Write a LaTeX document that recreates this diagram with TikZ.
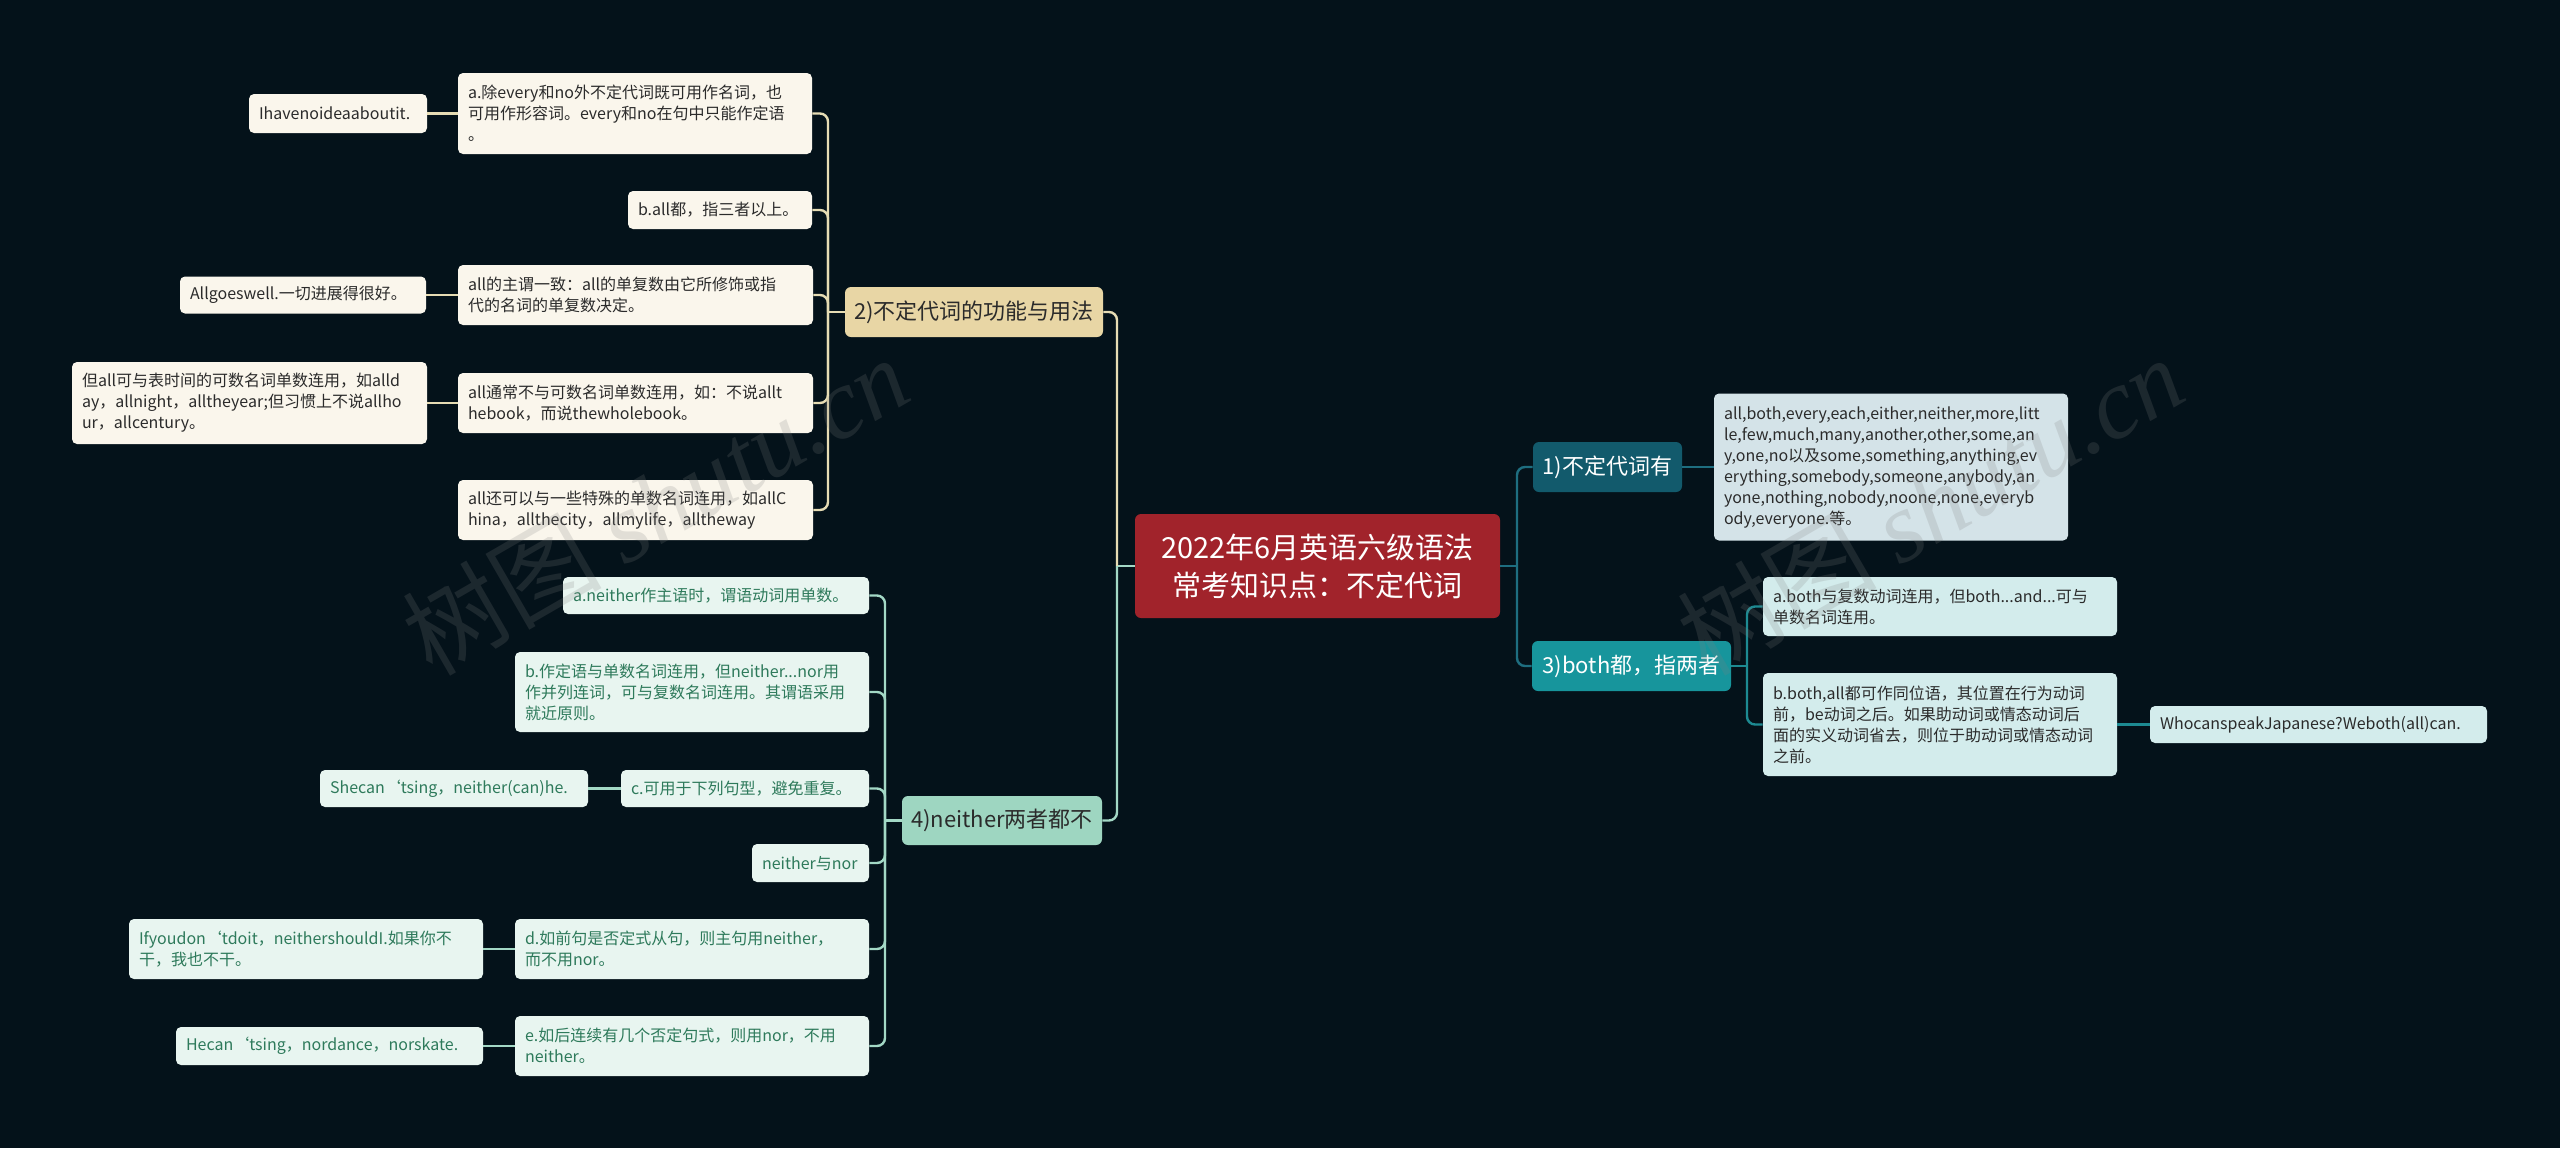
\documentclass[tikz,border=0pt]{standalone}
\usepackage{fontspec}
\setmainfont{Noto Sans CJK SC}
\newfontfamily\wmfont{Liberation Serif}
\usepackage{tikz}

\definecolor{bg}{HTML}{04121A}
\definecolor{rootred}{HTML}{A1232B}
\definecolor{tanfill}{HTML}{E8D6A5}
\definecolor{creamfill}{HTML}{FAF6EC}
\definecolor{creamline}{HTML}{E6DCB4}
\definecolor{greenfill}{HTML}{9ED6C1}
\definecolor{mintfill}{HTML}{E8F5F0}
\definecolor{mintline}{HTML}{A3D8C5}
\definecolor{mintink}{HTML}{2E7A5B}
\definecolor{petrol}{HTML}{125A6C}
\definecolor{icefill}{HTML}{D4E3E8}
\definecolor{petrolline}{HTML}{1E6E80}
\definecolor{cyanfill}{HTML}{17959C}
\definecolor{aquafill}{HTML}{D3ECEC}
\definecolor{cyanline}{HTML}{1D8A92}
\definecolor{ink}{HTML}{2B2B2B}

\begin{document}
\begin{tikzpicture}[x=0.5pt,y=-0.5pt,
  lf/.style={rounded corners=2.5pt,font=\fontsize{8}{10.5}\selectfont,align=left,inner xsep=5pt,inner ysep=0pt},
  sz/.style 2 args={minimum width=#1*0.5pt,minimum height=#2*0.5pt,text width=#1*0.5pt-10pt},
  bsz/.style 2 args={minimum width=#1*0.5pt,minimum height=#2*0.5pt},
  br/.style={rounded corners=3pt,font=\fontsize{11}{13}\selectfont,inner sep=0pt},
  cream/.style={lf,fill=creamfill,text=ink},
  mint/.style={lf,fill=mintfill,text=mintink},
  ice/.style={lf,fill=icefill,text=ink},
  aqua/.style={lf,fill=aquafill,text=ink},
  link/.style={line width=1.2pt,rounded corners=4pt},
  wm/.style={text=gray,opacity=0.2,font=\fontsize{50}{50}\selectfont,rotate=30}]

\fill[bg] (0,0) rectangle (2560,1148);

% centre
\node[fill=rootred,text=white,rounded corners=3pt,align=center,inner sep=0pt,
  font=\fontsize{14.5}{19}\selectfont,bsz={365}{104}] (root) at (1317.5,566)
  {2022年6月英语六级语法\\常考知识点：不定代词};

% branches
\node[br,fill=tanfill,text=ink,bsz={258}{50}] (b2) at (974,312) {2)不定代词的功能与用法};
\node[br,fill=greenfill,text=ink,bsz={200}{49}] (b4) at (1002,820.5) {4)neither两者都不};
\node[br,fill=petrol,text=white,bsz={149}{50}] (b1) at (1607.5,467) {1)不定代词有};
\node[br,fill=cyanfill,text=white,bsz={199}{50}] (b3) at (1631.5,666) {3)both都，指两者};

% 2) leaves
\node[cream,sz={354}{81}] (a1) at (635,113.5) {a.除every和no外不定代词既可用作名词，也\\可用作形容词。every和no在句中只能作定语\\。};
\node[cream,sz={178}{39}] (a1x) at (338,113.5) {Ihavenoideaaboutit.};
\node[cream,sz={184}{38}] (a2) at (720,210) {b.all都，指三者以上。};
\node[cream,sz={355}{60}] (a3) at (635.5,295) {all的主谓一致：all的单复数由它所修饰或指\\代的名词的单复数决定。};
\node[cream,sz={246}{37}] (a3x) at (303,295) {Allgoeswell.一切进展得很好。};
\node[cream,sz={355}{60}] (a4) at (635.5,403) {all通常不与可数名词单数连用，如：不说allt\\hebook，而说thewholebook。};
\node[cream,sz={355}{82}] (a4x) at (249.5,403) {但all可与表时间的可数名词单数连用，如alld\\ay，allnight，alltheyear;但习惯上不说allho\\ur，allcentury。};
\node[cream,sz={355}{60}] (a5) at (635.5,510) {all还可以与一些特殊的单数名词连用，如allC\\hina，allthecity，allmylife，alltheway};

% 4) leaves
\node[mint,sz={306}{37}] (n1) at (716,595.5) {a.neither作主语时，谓语动词用单数。};
\node[mint,sz={354}{80}] (n2) at (692,692) {b.作定语与单数名词连用，但neither...nor用\\作并列连词，可与复数名词连用。其谓语采用\\就近原则。};
\node[mint,sz={248}{37}] (n3) at (745,788.5) {c.可用于下列句型，避免重复。};
\node[mint,sz={268}{37}] (n3x) at (454,788.5) {Shecan‘tsing，neither(can)he.};
\node[mint,sz={117}{38}] (n4) at (810.5,863) {neither与nor};
\node[mint,sz={354}{60}] (n5) at (692,949) {d.如前句是否定式从句，则主句用neither，\\而不用nor。};
\node[mint,sz={354}{60}] (n5x) at (306,949) {Ifyoudon‘tdoit，neithershouldI.如果你不\\干，我也不干。};
\node[mint,sz={354}{60}] (n6) at (692,1046) {e.如后连续有几个否定句式，则用nor，不用\\neither。};
\node[mint,sz={307}{38}] (n6x) at (329.5,1046) {Hecan‘tsing，nordance，norskate.};

% 1) and 3) leaves
\node[ice,sz={354}{147}] (d1) at (1891,467) {all,both,every,each,either,neither,more,litt\\le,few,much,many,another,other,some,an\\y,one,no以及some,something,anything,ev\\erything,somebody,someone,anybody,an\\yone,nothing,nobody,noone,none,everyb\\ody,everyone.等。};
\node[aqua,sz={354}{59}] (c1) at (1940,606.5) {a.both与复数动词连用，但both...and...可与\\单数名词连用。};
\node[aqua,sz={354}{103}] (c2) at (1940,724.5) {b.both,all都可作同位语，其位置在行为动词\\前，be动词之后。如果助动词或情态动词后\\面的实义动词省去，则位于助动词或情态动词\\之前。};
\node[aqua,sz={337}{37}] (c2x) at (2318.5,724.5) {WhocanspeakJapanese?Weboth(all)can.};

% connectors
\coordinate (tl) at (1117,566);
\coordinate (tr) at (1517,566);
\coordinate (t2) at (828,312);
\coordinate (t4) at (885,820.5);
\coordinate (t3) at (1747,666);

\draw[link,mintline] (root.west) -- (tl);
\draw[link,creamline] (tl) |- (b2.east);
\draw[link,mintline] (tl) |- (b4.east);
\draw[link,petrolline] (root.east) -- (tr);
\draw[link,petrolline] (tr) |- (b1.west);
\draw[link,petrolline] (tr) |- (b3.west);

\draw[link,creamline] (b2.west) -- (t2);
\foreach \c in {a1,a2,a3,a4,a5}
  \draw[link,creamline] (t2) |- (\c.east);
\foreach \p/\c in {a1/a1x,a3/a3x,a4/a4x}
  \draw[link,creamline] (\p.west) -- (\c.east);

\draw[link,mintline] (b4.west) -- (t4);
\foreach \c in {n1,n2,n3,n4,n5,n6}
  \draw[link,mintline] (t4) |- (\c.east);
\foreach \p/\c in {n3/n3x,n5/n5x,n6/n6x}
  \draw[link,mintline] (\p.west) -- (\c.east);

\draw[link,petrolline] (b1.east) -- (d1.west);
\draw[link,cyanline] (b3.east) -- (t3);
\draw[link,cyanline] (t3) |- (c1.west);
\draw[link,cyanline] (t3) |- (c2.west);
\draw[link,cyanline] (c2.east) -- (c2x.west);

% watermarks
\node[wm] (wm1) at (655,505) {树图 {\wmfont\itshape shutu.cn}};
\node[wm] (wm2) at (1930,505) {树图 {\wmfont\itshape shutu.cn}};
\end{tikzpicture}
\end{document}
